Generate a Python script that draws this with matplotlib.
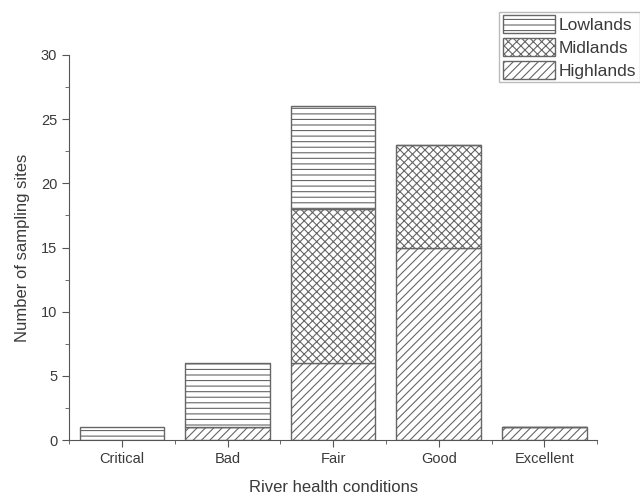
import numpy as np
import matplotlib.pyplot as plt
from matplotlib.ticker import MultipleLocator

plt.rcParams['font.family'] = ['Liberation Sans', 'DejaVu Sans']
plt.rcParams['hatch.color'] = '#999999'
plt.rcParams['hatch.linewidth'] = 0.8

conditions = ["Critical", "Bad", "Fair", "Good", "Excellent"]
highlands = [0, 1, 6, 15, 1]
midlands = [0, 0, 12, 8, 0]
lowlands = [1, 5, 8, 0, 0]

x = np.arange(1, len(conditions) + 1)
edge = "#666666"
txt = "#3a3a3a"

fig = plt.figure(figsize=(6.4, 5), dpi=100)
ax = fig.add_axes([0.108, 0.12, 0.825, 0.77])

b1 = ax.bar(x, highlands, 0.8, color="white", edgecolor=edge, hatch="////", linewidth=1, label="Highlands")
b2 = ax.bar(x, midlands, 0.8, bottom=highlands, color="white", edgecolor=edge, hatch="xxxx", linewidth=1, label="Midlands")
bottom2 = np.array(highlands) + np.array(midlands)
b3 = ax.bar(x, lowlands, 0.8, bottom=bottom2, color="white", edgecolor=edge, hatch="---", linewidth=1, label="Lowlands")

ax.set_xlim(0.5, 5.5)
ax.set_ylim(0, 30)
ax.set_xticks(x)
ax.set_xticklabels(conditions)
ax.xaxis.set_minor_locator(MultipleLocator(0.5))
ax.yaxis.set_major_locator(MultipleLocator(5))
ax.yaxis.set_minor_locator(MultipleLocator(2.5))
for s in ["top", "right"]:
    ax.spines[s].set_visible(False)
for s in ["left", "bottom"]:
    ax.spines[s].set_color("#555555")
ax.tick_params(which="major", length=5, color="#555555", labelsize=10.5, labelcolor=txt)
ax.tick_params(which="minor", length=3, color="#555555")
ax.set_xlabel("River health conditions", fontsize=12, color=txt, labelpad=10)
ax.set_ylabel("Number of sampling sites", fontsize=12, color=txt, labelpad=8)

leg = fig.legend([b3, b2, b1], ["Lowlands", "Midlands", "Highlands"],
                 loc="upper right", bbox_to_anchor=(1.0, 0.977), fontsize=12.5,
                 frameon=True, fancybox=False, handlelength=3.0, handleheight=1.2,
                 handletextpad=0.25, borderpad=0.2, labelspacing=0.3, borderaxespad=0)
leg.get_frame().set_edgecolor("#aaaaaa")
for t in leg.get_texts():
    t.set_color(txt)

fig.savefig("out.png", dpi=100)
